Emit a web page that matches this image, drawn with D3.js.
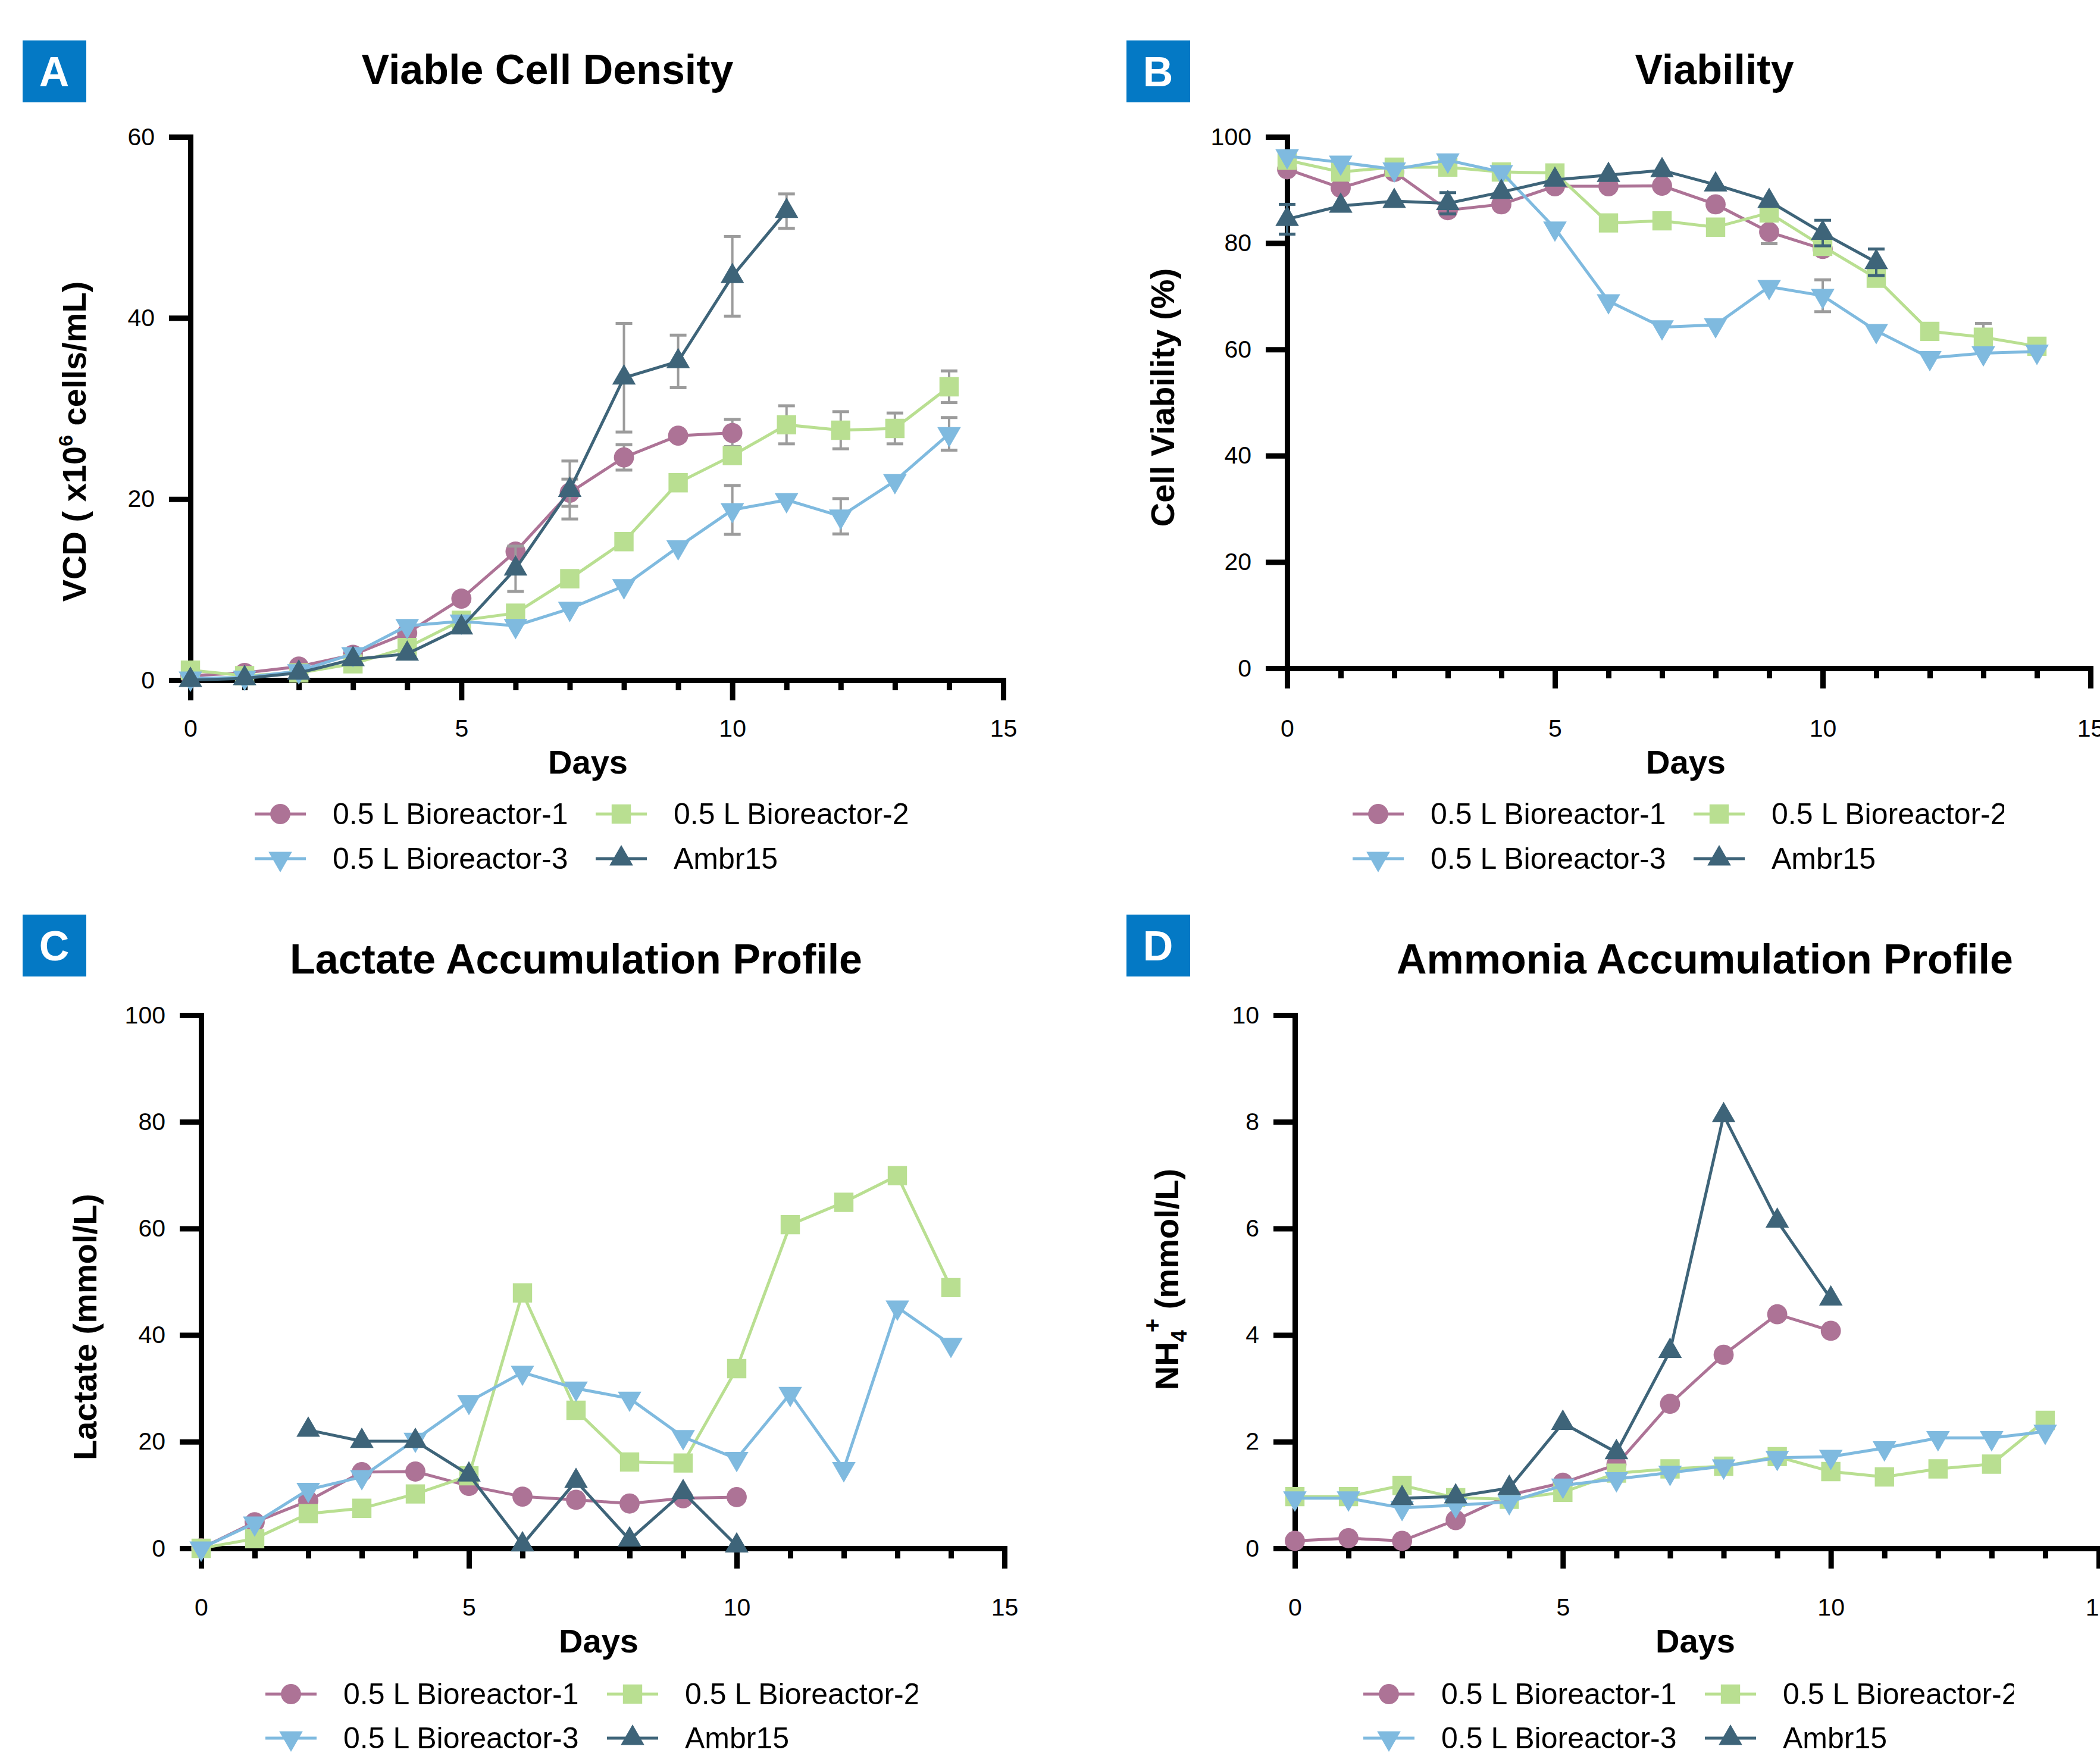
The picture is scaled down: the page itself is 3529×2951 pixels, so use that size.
<!DOCTYPE html>
<html lang="en">
<head>
<meta charset="UTF-8">
<script src="https://cdn.jsdelivr.net/npm/d3@7"></script>
<title>Bioreactor culture profiles</title>
<style>
  body { margin: 0; background: #fff; }
  svg text { font-family: "Liberation Sans", Arial, Helvetica, sans-serif; }
</style>
</head>
<body>
<svg id="fig" width="3529" height="2951"></svg>
<script>
  /* DATA (values read per culture day, 0..14) */
  const days = d3.range(0, 15);
  const xTicks = d3.range(0, 16);
  const seriesNames = ["0.5 L Bioreactor-1", "0.5 L Bioreactor-2", "0.5 L Bioreactor-3", "Ambr15"];

  // A: viable cell density (x10^6 cells/mL)
  const vcdBR1 = [0.5, 0.8, 1.5, 2.8, 5.2, 9.0, 14.2, 20.7, 24.6, 27.0, 27.3];
  const vcdBR2 = [1.1, 0.5, 0.8, 1.8, 3.6, 6.6, 7.4, 11.2, 15.3, 21.8, 24.8, 28.2, 27.6, 27.8, 32.4];
  const vcdBR3 = [0.2, 0.3, 1.0, 2.9, 6.0, 6.5, 6.0, 7.9, 10.4, 14.7, 18.8, 19.9, 18.1, 22.0, 27.2];
  const vcdAmbr = [0.0, 0.2, 0.8, 2.3, 2.9, 5.8, 12.3, 21.0, 33.4, 35.2, 44.6, 51.8];
  const vcdSdBR1 = [null, null, null, null, null, null, null, 1.5, 1.4, null, 1.5];
  const vcdSdBR2 = [null, null, null, null, null, null, null, null, null, null, null, 2.1, 2.05, 1.7, 1.75];
  const vcdSdBR3 = [null, null, null, null, null, null, null, null, null, null, 2.7, null, 1.95, null, 1.8];
  const vcdSdAmbr = [null, null, null, null, null, null, 2.5, 3.2, 6.0, 2.9, 4.4, 1.9];

  // B: viability (%)
  const viaBR1 = [93.9, 90.4, 93.4, 86.2, 87.3, 90.7, 90.7, 90.8, 87.3, 82.1, 78.9];
  const viaBR2 = [95.6, 93.4, 94.3, 94.3, 93.4, 93.2, 83.8, 84.2, 83.0, 85.7, 79.4, 73.4, 63.4, 62.3, 60.6];
  const viaBR3 = [96.4, 95.2, 93.9, 95.6, 93.4, 82.8, 69.1, 64.2, 64.6, 71.8, 70.1, 63.5, 58.4, 59.3, 59.6];
  const viaAmbr = [84.5, 87.0, 87.9, 87.5, 89.6, 91.9, 92.8, 93.7, 91.0, 87.9, 81.9, 76.4];
  const viaSdBR1 = [null, null, null, null, null, null, null, null, null, 2.2];
  const viaSdBR2 = [null, null, null, null, null, null, null, null, null, null, null, null, null, 2.6];
  const viaSdBR3 = [null, null, null, null, null, null, null, null, null, null, 3.0];
  const viaSdAmbr = [2.8, null, null, 2.0, null, null, null, null, null, null, 2.4, 2.5];

  // C: lactate (mmol/L)
  const lacBR1 = [0, 4.9, 8.9, 14.3, 14.4, 11.7, 9.7, 9.1, 8.4, 9.4, 9.6];
  const lacBR2 = [0, 1.8, 6.5, 7.5, 10.2, 13.6, 47.9, 25.9, 16.2, 16.0, 33.7, 60.7, 64.9, 69.9, 48.9];
  const lacBR3 = [0, 4.7, 11.0, 13.4, 20.4, 27.5, 33.0, 30.0, 28.1, 20.9, 16.8, 29.0, 14.9, 45.2, 38.2];
  const lacAmbr = [null, null, 22.2, 20.1, 20.1, 13.8, 0.7, 12.6, 1.6, 10.5, 0.5];

  // D: ammonia NH4+ (mmol/L)
  const nhBR1 = [0.14, 0.19, 0.14, 0.53, 1.0, 1.23, 1.57, 2.71, 3.63, 4.39, 4.08];
  const nhBR2 = [0.97, 0.97, 1.18, 0.95, 0.92, 1.05, 1.41, 1.49, 1.54, 1.72, 1.44, 1.34, 1.49, 1.58, 2.40];
  const nhBR3 = [0.94, 0.94, 0.76, 0.81, 0.87, 1.18, 1.30, 1.42, 1.54, 1.70, 1.72, 1.88, 2.07, 2.07, 2.19];
  const nhAmbr = [null, null, 0.94, 0.97, 1.13, 2.35, 1.8, 3.7, 8.12, 6.14, 4.68];

  /* STYLE */
  const colBR1 = "#ad7396", colBR2 = "#b9df91", colBR3 = "#7fbadf", colAmbr = "#3e6479";
  const errGrey = "#9c9c9c";
  const tickFont = 41;
  const symCircle = d3.symbol(d3.symbolCircle, 900)();
  const symSquare = d3.symbol(d3.symbolSquare, 1050)();
  const symTri = d3.symbol(d3.symbolTriangle, 680)();

  // marker + colour for each series, index matches seriesNames
  const looks = [
    { color: colBR1, path: symCircle, rot: 0 },
    { color: colBR2, path: symSquare, rot: 0 },
    { color: colBR3, path: symTri, rot: 180 },
    { color: colAmbr, path: symTri, rot: 0 }
  ];

  let svg = d3.select("#fig");
  svg.append("rect").attr("width", 3529).attr("height", 2951).attr("fill", "#fff");

  function drawPanel(p) {
    let g = svg.append("g");
    let x = d3.scaleLinear().domain([0, 15]).range([p.left, p.right]);
    let y = d3.scaleLinear().domain([0, p.yMax]).range([p.bottom, p.top]);

    // letter badge
    g.append("rect").attr("x", p.boxX).attr("y", p.boxY).attr("width", 107).attr("height", 104).attr("fill", "#0479c5");
    g.append("text").text(p.letter)
      .attr("x", p.boxX + 53).attr("y", p.boxY + 77)
      .attr("text-anchor", "middle").attr("fill", "#fff")
      .attr("font-size", 70).attr("font-weight", "bold");

    // title
    g.append("text").text(p.title)
      .attr("x", p.titleX).attr("y", p.titleY)
      .attr("text-anchor", "middle").attr("font-size", 70).attr("font-weight", "bold");

    /* AXES */
    let axisX = d3.axisBottom(x).tickValues(xTicks).tickSize(17).tickSizeOuter(0)
      .tickFormat(d => d % 5 === 0 ? d : "");
    let gx = g.append("g").attr("transform", `translate(0,${p.bottom})`).call(axisX);
    gx.select(".domain").attr("stroke-width", 9).attr("stroke-linecap", "square");
    gx.selectAll(".tick line").attr("stroke-width", 9).attr("y2", d => d % 5 === 0 ? 34 : 17);
    gx.selectAll(".tick text").attr("y", p.xLabelOffset + 3).attr("dy", null).attr("font-size", tickFont);

    let axisY = d3.axisLeft(y).tickValues(p.yTicks).tickSize(36).tickSizeOuter(0).tickPadding(24);
    let gy = g.append("g").attr("transform", `translate(${p.left},0)`).call(axisY);
    gy.select(".domain").attr("stroke-width", 9).attr("stroke-linecap", "square");
    gy.selectAll(".tick line").attr("stroke-width", 9);
    gy.selectAll(".tick text").attr("font-size", tickFont);

    g.append("text").text("Days")
      .attr("x", p.daysX).attr("y", p.daysY)
      .attr("text-anchor", "middle").attr("font-size", 56).attr("font-weight", "bold");

    let yl = g.append("text")
      .attr("transform", `translate(${p.yLabelX},${p.yLabelY}) rotate(-90)`)
      .attr("text-anchor", "middle").attr("font-size", 56).attr("font-weight", "bold");
    p.yLabel(yl);

    /* PLOT DATA */
    let line = d3.line().x(d => x(d.day)).y(d => y(d.v));
    p.series.forEach((s, i) => {
      let look = looks[i];
      let pts = days.map((day, j) => ({ day: day, v: s.values[j], sd: s.sd ? s.sd[j] : null }))
        .filter(d => d.v != null);
      let sg = g.append("g");

      // error bars
      pts.filter(d => d.sd != null).forEach(d => {
        let ec = s.errColor || errGrey;
        let top = y(d.v + d.sd), bot = y(d.v - d.sd), cx = x(d.day);
        sg.append("line").attr("x1", cx).attr("x2", cx).attr("y1", top).attr("y2", bot)
          .attr("stroke", ec).attr("stroke-width", 4);
        [top, bot].forEach(yy => sg.append("line")
          .attr("x1", cx - 14).attr("x2", cx + 14).attr("y1", yy).attr("y2", yy)
          .attr("stroke", ec).attr("stroke-width", 5));
      });

      sg.append("path").datum(pts).attr("d", line)
        .attr("fill", "none").attr("stroke", look.color).attr("stroke-width", 5);

      sg.selectAll("path.mark").data(pts).enter().append("path")
        .attr("class", "mark")
        .attr("d", look.path)
        .attr("transform", d => `translate(${x(d.day)},${y(d.v)}) rotate(${look.rot})`)
        .attr("fill", look.color);
    });

    /* LEGEND */
    let clipId = "clip" + p.letter;
    g.append("clipPath").attr("id", clipId).append("rect")
      .attr("x", 0).attr("y", 0).attr("width", p.legendClip).attr("height", 2951);
    let lg = g.append("g").attr("clip-path", `url(#${clipId})`);
    let slots = [[0, 0], [1, 0], [0, 1], [1, 1]];
    seriesNames.forEach((name, i) => {
      let look = looks[i];
      let lx = p.legendCols[slots[i][0]];
      let ly = p.legendRows[slots[i][1]];
      lg.append("line").attr("x1", lx).attr("x2", lx + 86).attr("y1", ly).attr("y2", ly)
        .attr("stroke", look.color).attr("stroke-width", 5);
      lg.append("path").attr("d", look.path)
        .attr("transform", `translate(${lx + 43},${ly}) rotate(${look.rot})`)
        .attr("fill", look.color);
      lg.append("text").text(name)
        .attr("x", lx + 131).attr("y", ly + 17).attr("font-size", 50);
    });
  }

  const seriesOf = (a, b, c, d, sa, sb, sc, sd, ambrErr) => [
    { values: a, sd: sa }, { values: b, sd: sb }, { values: c, sd: sc },
    { values: d, sd: sd, errColor: ambrErr }
  ];

  drawPanel({
    letter: "A", title: "Viable Cell Density",
    boxX: 38, boxY: 68, titleX: 920, titleY: 141,
    left: 320, right: 1686, bottom: 1143, top: 230,
    yMax: 60, yTicks: [0, 20, 40, 60], xLabelOffset: 92,
    daysX: 988, daysY: 1300, yLabelX: 144, yLabelY: 742,
    yLabel: t => {
      t.append("tspan").text("VCD ( x10");
      t.append("tspan").text("6").attr("font-size", 34).attr("dy", -22);
      t.append("tspan").text(" cells/mL)").attr("dy", 22);
    },
    series: seriesOf(vcdBR1, vcdBR2, vcdBR3, vcdAmbr, vcdSdBR1, vcdSdBR2, vcdSdBR3, vcdSdAmbr, errGrey),
    legendCols: [428, 1001], legendRows: [1368, 1443], legendClip: 3529
  });

  drawPanel({
    letter: "B", title: "Viability",
    boxX: 1893, boxY: 68, titleX: 2881, titleY: 141,
    left: 2163, right: 3513, bottom: 1123, top: 230,
    yMax: 100, yTicks: [0, 20, 40, 60, 80, 100], xLabelOffset: 112,
    daysX: 2833, daysY: 1300, yLabelX: 1973, yLabelY: 668,
    yLabel: t => t.text("Cell Viability (%)"),
    series: seriesOf(viaBR1, viaBR2, viaBR3, viaAmbr, viaSdBR1, viaSdBR2, viaSdBR3, viaSdAmbr, colAmbr),
    legendCols: [2273, 2846], legendRows: [1368, 1443], legendClip: 3368
  });

  drawPanel({
    letter: "C", title: "Lactate Accumulation Profile",
    boxX: 38, boxY: 1537, titleX: 968, titleY: 1636,
    left: 338, right: 1688, bottom: 2602, top: 1706,
    yMax: 100, yTicks: [0, 20, 40, 60, 80, 100], xLabelOffset: 110,
    daysX: 1006, daysY: 2777, yLabelX: 162, yLabelY: 2230,
    yLabel: t => t.text("Lactate (mmol/L)"),
    series: seriesOf(lacBR1, lacBR2, lacBR3, lacAmbr),
    legendCols: [446, 1020], legendRows: [2847, 2921], legendClip: 1542
  });

  drawPanel({
    letter: "D", title: "Ammonia Accumulation Profile",
    boxX: 1893, boxY: 1537, titleX: 2865, titleY: 1636,
    left: 2176, right: 3527, bottom: 2602, top: 1706,
    yMax: 10, yTicks: [0, 2, 4, 6, 8, 10], xLabelOffset: 110,
    daysX: 2849, daysY: 2777, yLabelX: 1980, yLabelY: 2150,
    yLabel: t => {
      t.append("tspan").text("NH");
      t.append("tspan").text("4").attr("font-size", 36).attr("dy", 14);
      t.append("tspan").text("+").attr("font-size", 40).attr("dy", -44).attr("dx", -4);
      t.append("tspan").text(" (mmol/L)").attr("dy", 30);
    },
    series: seriesOf(nhBR1, nhBR2, nhBR3, nhAmbr),
    legendCols: [2291, 2865], legendRows: [2847, 2921], legendClip: 3384
  });
</script>
</body>
</html>
